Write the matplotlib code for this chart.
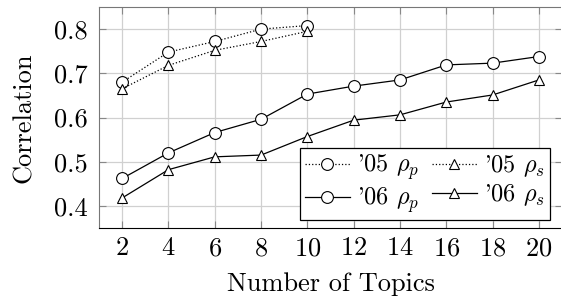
import matplotlib
matplotlib.use("Agg")
import matplotlib.pyplot as plt

plt.rcParams["font.family"] = "serif"
plt.rcParams["font.serif"] = ["cmr10"]
plt.rcParams["mathtext.fontset"] = "cm"
plt.rcParams["axes.formatter.use_mathtext"] = True

topics_05 = [2, 4, 6, 8, 10]
rho_p_05 = [0.680, 0.748, 0.772, 0.800, 0.808]
rho_s_05 = [0.665, 0.718, 0.752, 0.772, 0.795]

topics_06 = [2, 4, 6, 8, 10, 12, 14, 16, 18, 20]
rho_p_06 = [0.462, 0.520, 0.566, 0.596, 0.653, 0.671, 0.685, 0.719, 0.723, 0.738]
rho_s_06 = [0.418, 0.482, 0.511, 0.515, 0.557, 0.594, 0.606, 0.635, 0.651, 0.685]

fig = plt.figure(figsize=(5.61, 3.0), dpi=100)
ax = fig.add_axes([99 / 561, 1 - 228 / 300, 1 - 99 / 561 + 0.002, (228 - 7) / 300])

mk = dict(markerfacecolor="white", markeredgecolor="black", markeredgewidth=0.8, color="black", linewidth=0.9)
p05, = ax.plot(topics_05, rho_p_05, linestyle=":", marker="o", markersize=8.5, label=r"'05 $\rho_p$", **mk)
s05, = ax.plot(topics_05, rho_s_05, linestyle=":", marker="^", markersize=7.5, label=r"'05 $\rho_s$", **mk)
p06, = ax.plot(topics_06, rho_p_06, linestyle="-", marker="o", markersize=8.5, label=r"'06 $\rho_p$", **mk)
s06, = ax.plot(topics_06, rho_s_06, linestyle="-", marker="^", markersize=7.5, label=r"'06 $\rho_s$", **mk)

ax.set_xlim(1, 21)
ax.set_ylim(0.35, 0.85)
ax.set_xticks(topics_06)
ax.set_yticks([0.4, 0.5, 0.6, 0.7, 0.8])
ax.set_yticklabels(["0.4", "0.5", "0.6", "0.7", "0.8"])
ax.grid(True, color="#d0d0d0", linewidth=0.9)
ax.set_axisbelow(True)
ax.tick_params(direction="in", length=5, color="#888888", labelsize=19,
               top=True, right=True)
ax.tick_params(axis="y", pad=8)
ax.tick_params(axis="x", pad=6)
for s in ["left", "right", "top"]:
    ax.spines[s].set_color("#777777")
ax.spines["bottom"].set_color("black")

ax.set_xlabel("Number of Topics", fontsize=19, labelpad=9)
ax.set_ylabel("Correlation", fontsize=19, labelpad=13)

# column-major fill -> rows: '05 pair on top, '06 pair below
leg = ax.legend([p05, p06, s05, s06],
                [p05.get_label(), p06.get_label(), s05.get_label(), s06.get_label()],
                ncol=2, loc="lower right", bbox_to_anchor=(0.974, 0.036), fontsize=17.5,
                frameon=True, fancybox=False, edgecolor="black", framealpha=1,
                handlelength=1.85, handletextpad=0.32, columnspacing=0.5,
                borderpad=0.2, labelspacing=0.13, borderaxespad=0)
leg.get_frame().set_linewidth(0.9)

fig.savefig("out.png", dpi=100)
